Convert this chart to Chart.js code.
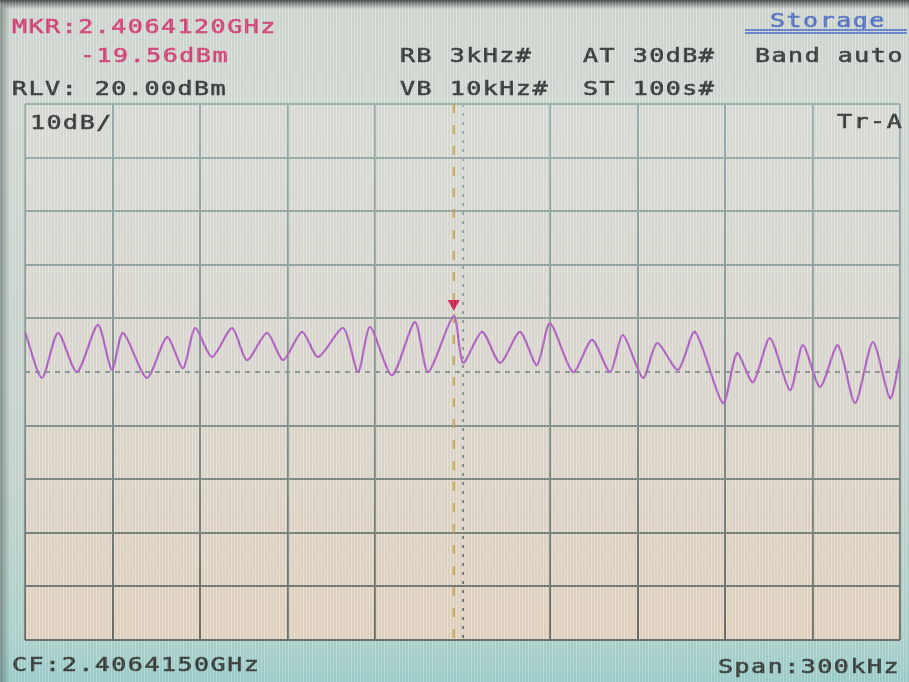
<!DOCTYPE html>
<html>
<head>
<meta charset="utf-8">
<script src="https://cdn.jsdelivr.net/npm/chart.js@4.4.1/dist/chart.umd.min.js"></script>
<style>
  html, body { margin: 0; padding: 0; }
  #screen {
    position: relative;
    width: 909px;
    height: 682px;
    overflow: hidden;
    background:
      linear-gradient(180deg, #4b4d49 0, #8d918b 4px, rgba(0,0,0,0) 9px),
      linear-gradient(90deg, rgba(70,85,80,0.55) 0, rgba(0,0,0,0) 10px),
      linear-gradient(180deg, #d6ddd6 0, #d9e0d9 100px, #cbd9d3 480px, #b2d8d3 640px, #a2d3cf 682px);
  }
  #c { position: absolute; left: 0; top: 0; }
  #stripes {
    position: absolute; left: 0; top: 0; width: 909px; height: 682px;
    pointer-events: none;
    background: repeating-linear-gradient(90deg, rgba(255,255,255,0.12) 0 1px, rgba(0,0,0,0.045) 1px 3px);
  }
  .t {
    position: absolute;
    font-family: "DejaVu Sans Mono", monospace;
    font-size: 20px;
    line-height: 20px;
    letter-spacing: 1.2px;
    white-space: pre;
    color: #3b403d;
    -webkit-text-stroke: 0.6px currentColor;
    transform: scaleX(1.25);
    transform-origin: 0 0;
  }
  .pink { color: #d8467c; }
  .blue { color: #5a78c8; }
  #underline {
    position: absolute; left: 745px; top: 29px; width: 162px; height: 1px;
    border-top: 2px solid #6a88d0; border-bottom: 2px solid #6a88d0;
  }
</style>
</head>
<body>
<div id="screen">
  <canvas id="c" width="909" height="682"></canvas>
  <div class="t pink" style="left:12px;top:16px">MKR:2.4064120GHz</div>
  <div class="t pink" style="left:80px;top:45px">-19.56dBm</div>
  <div class="t" style="left:12px;top:78px">RLV: 20.00dBm</div>
  <div class="t" style="left:400px;top:45px">RB 3kHz#</div>
  <div class="t" style="left:400px;top:78px">VB 10kHz#</div>
  <div class="t" style="left:583px;top:45px">AT 30dB#</div>
  <div class="t" style="left:583px;top:78px">ST 100s#</div>
  <div class="t blue" style="left:770px;top:10px">Storage</div>
  <div id="underline"></div>
  <div class="t" style="left:755px;top:45px">Band auto</div>
  <div class="t" style="left:30px;top:112px">10dB/</div>
  <div class="t" style="left:837px;top:111px">Tr-A</div>
  <div class="t" style="left:12px;top:654px">CF:2.4064150GHz</div>
  <div class="t" style="left:718px;top:656px">Span:300kHz</div>
  <div id="stripes"></div>
</div>
<script>
// frequency offset from CF (kHz) and trace level (dBm)
const freqs = [-150, -144.2, -138.7, -132.2, -125, -120.2, -116.4, -108.2, -101.3, -95.8,
  -91.7, -85.9, -79, -73.9, -67, -61.5, -55, -49.5, -40.9, -35.8,
  -31.7, -24.2, -16.3, -11.8, -3, 0.2, 6.7, 12.9, 19.7, 25.5,
  30, 37.9, 44.4, 50.6, 55, 61.9, 66.7, 73.9, 79.7, 89.3,
  94.1, 99.6, 105.4, 112.3, 116.7, 122.6, 128.7, 134.6, 140.7, 146.6, 150];
const levels = [-22.5, -31.1, -22.7, -30.0, -21.2, -29.6, -22.7, -31.1, -23.5, -29.3,
  -21.8, -27.2, -21.8, -27.8, -22.7, -27.8, -22.5, -27.2, -21.8, -30.0,
  -21.6, -30.6, -20.7, -30.0, -19.56, -28.3, -22.5, -28.3, -22.5, -28.7,
  -20.9, -30.0, -24.0, -30.0, -23.1, -31.1, -24.6, -29.6, -22.5, -35.8,
  -26.5, -31.9, -23.7, -33.4, -25.0, -32.8, -25.0, -35.8, -24.4, -34.9, -27.4];

const refLevel = 20;     // RLV dBm
const dbPerDiv = 10;
const halfSpan = 150;    // kHz
const markerFreq = -3;   // 2.4064120 - 2.4064150 GHz
const markerLevel = -19.56;

const trace = freqs.map((f, i) => ({ x: f, y: levels[i] }));

function gridColor(ctx) {
  const area = ctx.chart.chartArea;
  if (!area) return '#8fa4a2';
  const g = ctx.chart.ctx.createLinearGradient(0, area.top, 0, area.bottom);
  g.addColorStop(0, '#9fb4b2');
  g.addColorStop(0.5, '#8c9c98');
  g.addColorStop(1, '#6c706a');
  return g;
}

const screenPlugin = {
  id: 'screen',
  beforeDraw(chart) {
    const { ctx, chartArea: a } = chart;
    const g = ctx.createLinearGradient(0, a.top, 0, a.bottom);
    g.addColorStop(0, '#dfe2dc');
    g.addColorStop(0.5, '#e1ded7');
    g.addColorStop(1, '#e7d9c6');
    ctx.save();
    ctx.fillStyle = g;
    ctx.fillRect(a.left, a.top, a.right - a.left, a.bottom - a.top);
    ctx.restore();
  },
  beforeDatasetsDraw(chart) {
    const { ctx, chartArea: a, scales } = chart;
    const x = scales.x.getPixelForValue(markerFreq);
    ctx.save();
    ctx.strokeStyle = '#c9a640';
    ctx.lineWidth = 2;
    ctx.setLineDash([9, 12]);
    ctx.beginPath();
    ctx.moveTo(x, a.top);
    ctx.lineTo(x, a.bottom);
    ctx.stroke();
    ctx.restore();
  },
  afterDatasetsDraw(chart) {
    const { ctx, scales } = chart;
    const x = scales.x.getPixelForValue(markerFreq);
    const y = scales.y.getPixelForValue(markerLevel);
    ctx.save();
    ctx.fillStyle = '#d42858';
    ctx.beginPath();
    ctx.moveTo(x - 6, y - 16);
    ctx.lineTo(x + 6, y - 16);
    ctx.lineTo(x, y - 5);
    ctx.closePath();
    ctx.fill();
    ctx.restore();
  }
};

new Chart(document.getElementById('c'), {
  type: 'line',
  data: {
    datasets: [{
      data: trace,
      borderColor: '#b466c6',
      borderWidth: 2.2,
      pointRadius: 0,
      tension: 0.25
    }]
  },
  options: {
    responsive: false,
    animation: false,
    events: [],
    layout: { padding: { left: 25, right: 9, top: 104, bottom: 42 } },
    plugins: { legend: { display: false }, tooltip: { enabled: false } },
    scales: {
      x: {
        type: 'linear',
        min: -halfSpan,
        max: halfSpan,
        ticks: { display: false, stepSize: 30 },
        grid: { color: gridColor, lineWidth: 2, drawTicks: false },
        border: {
          display: false,
          dash: (ctx) => (ctx.tick && ctx.tick.value === 0 ? [3, 6] : [])
        }
      },
      y: {
        min: refLevel - 10 * dbPerDiv,
        max: refLevel,
        ticks: { display: false, stepSize: dbPerDiv },
        grid: {
          color: (ctx) => (ctx.tick && ctx.tick.value === -30 ? '#8e9a96' : gridColor(ctx)),
          lineWidth: 2,
          drawTicks: false
        },
        border: {
          display: false,
          dash: (ctx) => (ctx.tick && ctx.tick.value === -30 ? [5, 5] : [])
        }
      }
    }
  },
  plugins: [screenPlugin]
});
</script>
</body>
</html>
